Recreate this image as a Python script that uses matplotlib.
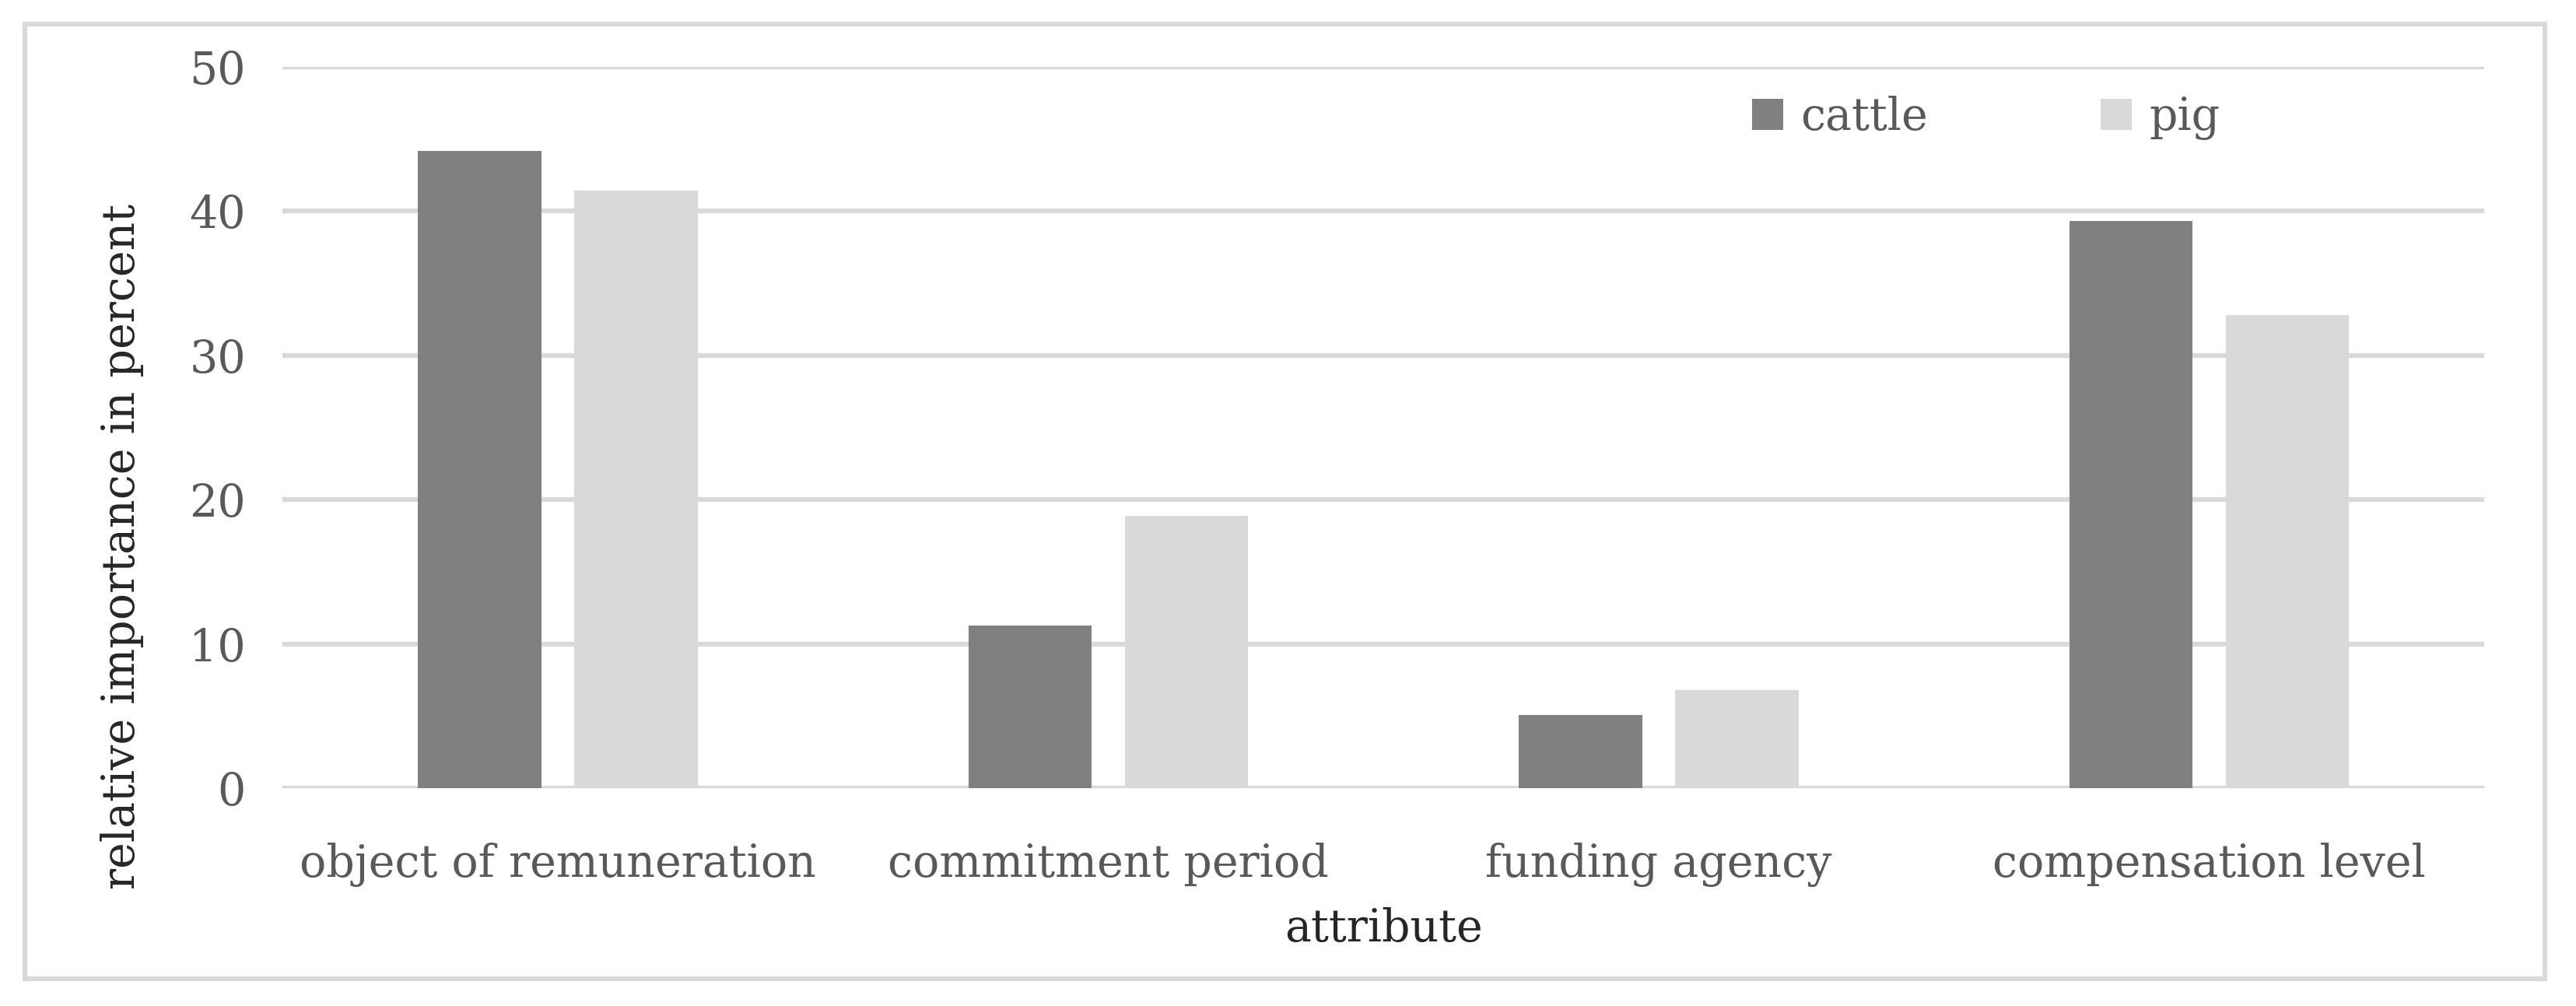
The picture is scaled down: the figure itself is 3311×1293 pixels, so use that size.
import matplotlib.pyplot as plt
from matplotlib.patches import Rectangle
import numpy as np

# data
attributes = ["object of remuneration", "commitment period", "funding agency", "compensation level"]
cattle = [44.2, 11.3, 5.1, 39.3]
pig = [41.4, 18.9, 6.8, 32.8]
yticks = [0, 10, 20, 30, 40, 50]

dark = "#808080"
light = "#d9d9d9"
txt = "#595959"
plt.rcParams['font.family'] = ['DejaVu Serif']

fig = plt.figure(figsize=(33.11, 12.93), dpi=100)
ax = fig.add_axes([0.1097, 0.2165, 0.8547, 0.717])

x = np.arange(len(attributes))
w = 0.224
off = 0.142
ax.bar(x - off, cattle, w, color=dark, label="cattle", zorder=3)
ax.bar(x + off, pig, w, color=light, label="pig", zorder=3)

ax.set_xlim(-0.5, len(attributes) - 0.5)
ax.set_ylim(0, 50)
ax.set_yticks(yticks)
ax.set_xticks(x)
ax.set_xticklabels(attributes)
ax.yaxis.grid(True, color=light, linewidth=4.5, zorder=0)
ax.set_axisbelow(True)
for s in ax.spines.values():
    s.set_visible(False)
ax.tick_params(axis='both', length=0, labelsize=41, labelcolor=txt)
ax.tick_params(axis='y', pad=34)
ax.tick_params(axis='x', pad=50)

ax.set_xlabel("attribute", fontsize=41, color="#262626", labelpad=19)
fig.text(0.0474, 0.457, "relative importance in percent", rotation=90,
         fontsize=41, color="#262626", ha='center', va='center')

leg = ax.legend(loc='center', bbox_to_anchor=(0.771, 0.883), bbox_transform=fig.transFigure,
                ncol=2, frameon=False, fontsize=41, handlelength=0.7, handleheight=0.7,
                handletextpad=0.4, columnspacing=3.9, labelcolor=txt)

# light outer frame
fig.patches.append(Rectangle((0.0097, 0.027), 0.9783, 0.949, transform=fig.transFigure,
                             fill=False, edgecolor=light, linewidth=4.5))

fig.savefig("out.png", dpi=100, facecolor="white")
